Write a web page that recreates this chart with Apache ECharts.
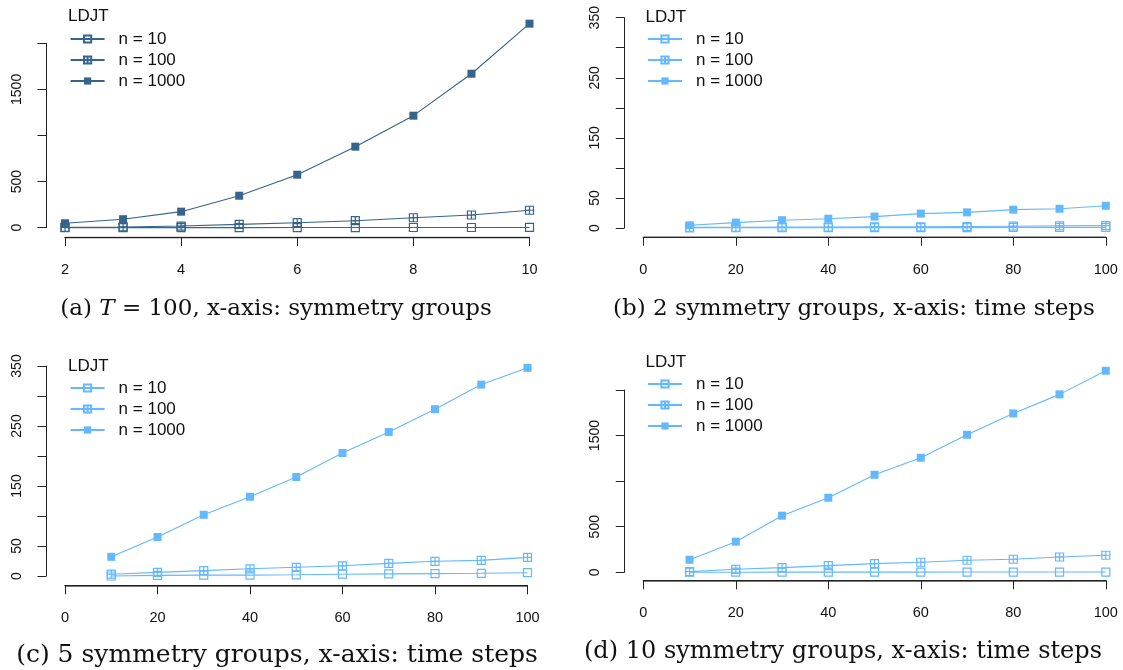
<!DOCTYPE html>
<html>
<head>
<meta charset="utf-8">
<script src="https://cdn.jsdelivr.net/npm/echarts@6/dist/echarts.min.js"></script>
<style>
  html, body { margin: 0; padding: 0; background: #fff; }
  #chart { width: 1123px; height: 670px; }
</style>
</head>
<body>
<div id="chart"></div>
<script>
  // x values
  var xGroups = [2, 3, 4, 5, 6, 7, 8, 9, 10];
  var xSteps = [10, 20, 30, 40, 50, 60, 70, 80, 90, 100];

  // (a) T = 100, x: symmetry groups
  var aN10 = [0.5, 0.8, 1, 1.2, 1.5, 1.8, 2, 2.2, 2.5];
  var aN100 = [4, 8, 18, 36, 54, 76, 108, 138, 189];
  var aN1000 = [48, 92, 174, 347, 575, 879, 1215, 1670, 2213];

  // (b) 2 symmetry groups
  var bN10 = [0.3, 0.4, 0.5, 0.5, 0.6, 0.6, 0.7, 0.8, 0.8, 0.9];
  var bN100 = [1, 1, 1.5, 1.5, 2, 2, 2.5, 3, 3.5, 4];
  var bN1000 = [4.5, 9, 13, 15.5, 19, 24, 26, 30.5, 32, 37];

  // (c) 5 symmetry groups
  var cN10 = [0, 1, 1.5, 1.5, 2, 3, 3.5, 4, 4.5, 5.5];
  var cN100 = [3, 6, 9, 12, 14.5, 17, 21, 24.5, 26, 31];
  var cN1000 = [32, 65, 102, 132, 165, 205, 240, 278, 319, 347];

  // (d) 10 symmetry groups
  var dN10 = [1, 1, 1.5, 1.5, 2, 2, 2.5, 2.5, 3, 3];
  var dN100 = [7, 33, 51, 73, 95, 110, 132, 143, 168, 187];
  var dN1000 = [138, 336, 621, 818, 1070, 1257, 1509, 1743, 1952, 2211];

  var legendNames = ['n = 10', 'n = 100', 'n = 1000'];
  var yTicksBig = [0, 500, 1500];
  var yTicksSmall = [0, 50, 150, 250, 350];
  var captions = {
    a: '(a) {i|T} = 100, x-axis: symmetry groups',
    b: '(b) 2 symmetry groups, x-axis: time steps',
    c: '(c) 5 symmetry groups, x-axis: time steps',
    d: '(d) 10 symmetry groups, x-axis: time steps'
  };

  var darkBlue = '#36648b';
  var lightBlue = '#63b8ff';
  var sans = "'Liberation Sans', Arial, sans-serif";
  var serif = "'DejaVu Serif', serif";

  var symHollow = 'path://M0,0H10V10H0Z';
  var symPlus = 'path://M0,0H10V10H0ZM5,0V10M0,5H10';

  // box: plot area from y = 0 up to the top y tick; xGap: gap down to the x axis line
  var panels = [
    { id: 'a', xs: xGroups, ys: [aN10, aN100, aN1000], color: darkBlue,
      box: { left: 65, top: 43.3, width: 464.5, height: 184.4 }, xGap: 9.6,
      xMin: 2, xMax: 10, xInt: 2, yMax: 2000, yInt: 500, yShow: yTicksBig,
      ttl: [68, 8], leg: [69.6, 30], cap: [276, 298], capSize: 23 },
    { id: 'b', xs: xSteps, ys: [bN10, bN100, bN1000], color: lightBlue,
      box: { left: 643.3, top: 17.7, width: 462.5, height: 210.3 }, xGap: 9,
      xMin: 0, xMax: 100, xInt: 20, yMax: 350, yInt: 50, yShow: yTicksSmall,
      ttl: [645.5, 9], leg: [647, 30], cap: [854, 298], capSize: 23 },
    { id: 'c', xs: xSteps, ys: [cN10, cN100, cN1000], color: lightBlue,
      box: { left: 65, top: 366, width: 462.5, height: 210 }, xGap: 9.7,
      xMin: 0, xMax: 100, xInt: 20, yMax: 350, yInt: 50, yShow: yTicksSmall,
      ttl: [68, 358], leg: [69.6, 379], cap: [277, 643], capSize: 25 },
    { id: 'd', xs: xSteps, ys: [dN10, dN100, dN1000], color: lightBlue,
      box: { left: 643.3, top: 390, width: 462.5, height: 182.3 }, xGap: 8.4,
      xMin: 0, xMax: 100, xInt: 20, yMax: 2000, yInt: 500, yShow: yTicksBig,
      ttl: [645.5, 354], leg: [647, 375], cap: [843, 640], capSize: 24 }
  ];

  function lineStyle() { return { color: '#222', width: 1 }; }
  var option = {
    backgroundColor: '#fff',
    animation: false,
    title: [], grid: [], xAxis: [], yAxis: [], legend: [], series: []
  };

  panels.forEach(function (p) {
    var b = p.box;
    var axisY = b.top + b.height + p.xGap;

    // data grid: its bottom edge is the x axis line (R leaves a gap below y = 0)
    var gData = option.grid.length;
    option.grid.push({ left: b.left, top: b.top, width: b.width, height: b.height + p.xGap });
    option.xAxis.push({
      type: 'value', gridIndex: gData, position: 'bottom',
      min: p.xMin, max: p.xMax, interval: p.xInt,
      axisLine: { show: true, onZero: false, lineStyle: lineStyle() },
      axisTick: { show: true, inside: false, length: 8.5, lineStyle: lineStyle() },
      axisLabel: { show: true, margin: 25, fontSize: 14.5, color: '#111', fontFamily: sans },
      splitLine: { show: false }
    });
    option.yAxis.push({
      type: 'value', gridIndex: gData, show: false,
      min: -p.yMax * p.xGap / b.height, max: p.yMax,
      splitLine: { show: false }
    });

    // y axis grid: spans 0..top tick only, axis line drawn left of the plot
    var gAxis = option.grid.length;
    option.grid.push({ left: b.left, top: b.top, width: b.width, height: b.height });
    option.xAxis.push({ type: 'value', gridIndex: gAxis, show: false, min: p.xMin, max: p.xMax });
    option.yAxis.push({
      type: 'value', gridIndex: gAxis, position: 'left',
      min: 0, max: p.yMax, interval: p.yInt,
      offset: 19,
      axisLine: { show: true, onZero: false, lineStyle: lineStyle() },
      axisTick: { show: true, length: 8.5, lineStyle: lineStyle() },
      axisLabel: {
        rotate: 90, margin: 22, fontSize: 14, color: '#111', fontFamily: sans,
        formatter: function (v) { return p.yShow.indexOf(v) >= 0 ? String(v) : ''; }
      },
      splitLine: { show: false }
    });

    // x ticks hung from the top of a thin grid just under the axis line
    var gLine = option.grid.length;
    option.grid.push({ left: b.left, top: axisY, width: b.width, height: 20 });
    option.xAxis.push({
      type: 'value', gridIndex: gLine, position: 'top',
      min: p.xMin, max: p.xMax, interval: p.xInt,
      axisLine: { show: true, onZero: false, lineStyle: lineStyle() },
      axisTick: { show: true, inside: true, length: 8.5, lineStyle: lineStyle() },
      axisLabel: { show: false },
      splitLine: { show: false }
    });
    option.yAxis.push({ type: 'value', gridIndex: gLine, show: false, min: 0, max: 1 });

    // flat bordered grid as a fallback stroke for the x axis line
    var gBorder = option.grid.length;
    option.grid.push({
      show: true, left: b.left, top: axisY, width: b.width, height: 0.5,
      borderWidth: 0.8, borderColor: '#222', backgroundColor: 'transparent'
    });
    option.xAxis.push({ type: 'value', gridIndex: gBorder, show: false, min: p.xMin, max: p.xMax });
    option.yAxis.push({ type: 'value', gridIndex: gBorder, show: false, min: 0, max: 1 });

    option.title.push({
      text: 'LDJT', left: p.ttl[0], top: p.ttl[1], padding: 0,
      textStyle: { fontSize: 17, fontWeight: 'normal', color: '#111', fontFamily: sans }
    });
    option.title.push({
      text: captions[p.id], left: p.cap[0], top: p.cap[1], textAlign: 'center', padding: 0,
      textStyle: {
        fontSize: p.capSize, fontWeight: 'normal', color: '#111', fontFamily: serif,
        rich: { i: { fontSize: p.capSize, fontStyle: 'italic', fontFamily: serif, color: '#111' } }
      }
    });
    var names = legendNames.map(function (n) { return p.id + '|' + n; });
    option.legend.push({
      orient: 'vertical', left: p.leg[0], top: p.leg[1], padding: 0,
      itemWidth: 34, itemHeight: 9, itemGap: 3, selectedMode: false,
      data: names,
      formatter: function (name) { return name.split('|')[1]; },
      textStyle: { fontSize: 17, lineHeight: 18, color: '#111', fontFamily: sans, padding: [0, 0, 0, 9] }
    });
    var syms = [symHollow, symPlus, 'rect'];
    p.ys.forEach(function (vals, k) {
      option.series.push({
        name: names[k], type: 'line', xAxisIndex: gData, yAxisIndex: gData,
        clip: false,
        data: p.xs.map(function (x, j) { return [x, vals[j]]; }),
        symbol: syms[k], symbolSize: 8,
        lineStyle: { color: p.color, width: 1.1 },
        itemStyle: k === 2
          ? { color: p.color }
          : { color: 'rgba(255,255,255,0)', borderColor: p.color, borderWidth: 1.2 },
        z: 2 + k
      });
    });
  });

  var chart = echarts.init(document.getElementById('chart'), null, { renderer: 'canvas' });
  chart.setOption(option);
</script>
</body>
</html>
